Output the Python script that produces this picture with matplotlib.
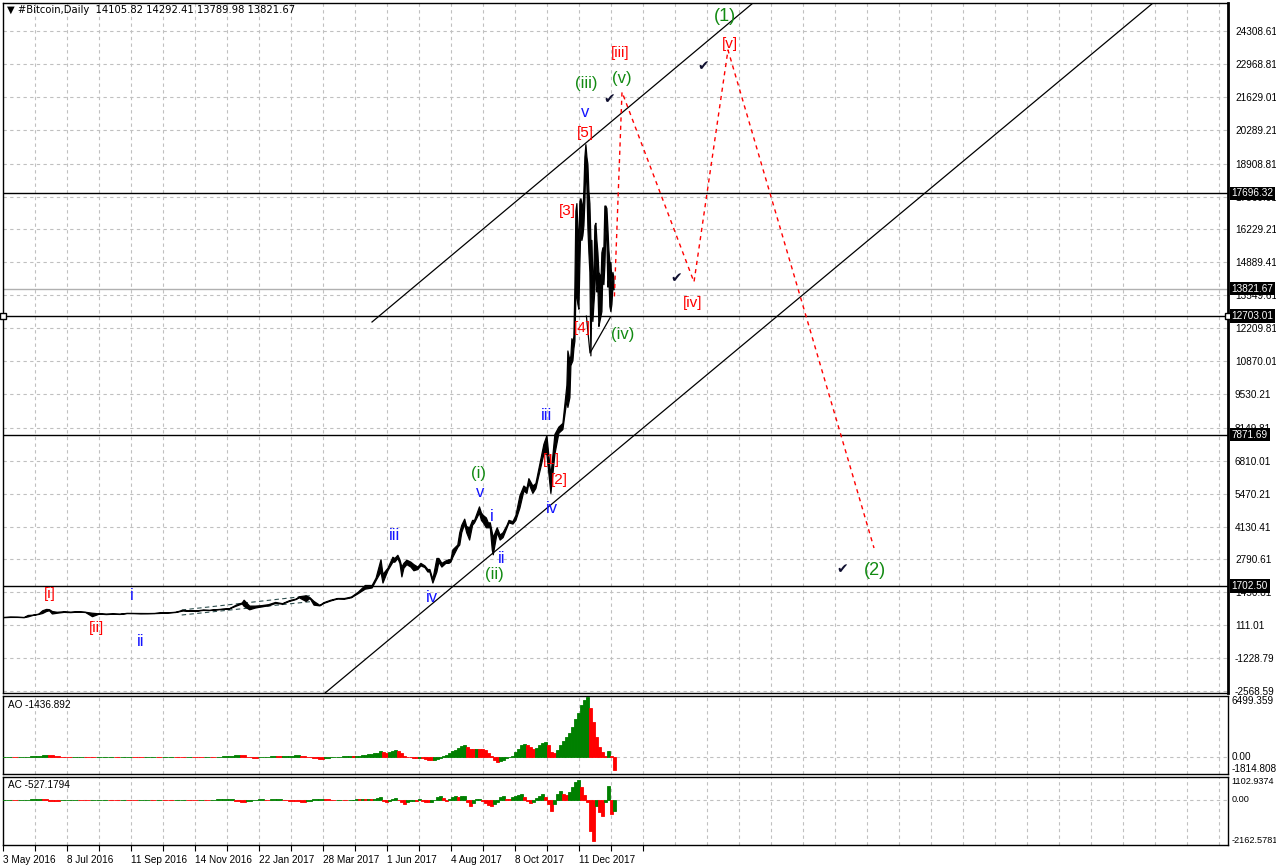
import matplotlib
matplotlib.use('Agg')
import matplotlib.pyplot as plt
import matplotlib.transforms as mtransforms
import numpy as np
import pandas as pd

plt.rcParams['font.family'] = ['Liberation Sans', 'DejaVu Sans']

# daily price bars (sampled), high / low
dates = ['2016-05-03', '2016-05-10', '2016-05-17', '2016-05-24', '2016-05-28', '2016-06-02',
         '2016-06-08', '2016-06-12', '2016-06-16', '2016-06-19', '2016-06-22', '2016-06-27',
         '2016-07-04', '2016-07-11', '2016-07-18', '2016-07-26', '2016-08-02', '2016-08-09',
         '2016-08-16', '2016-08-23', '2016-08-30', '2016-09-06', '2016-09-13', '2016-09-20',
         '2016-09-27', '2016-10-04', '2016-10-11', '2016-10-18', '2016-10-25', '2016-11-01',
         '2016-11-08', '2016-11-15', '2016-11-22', '2016-11-29', '2016-12-06', '2016-12-13',
         '2016-12-20', '2016-12-27', '2017-01-03', '2017-01-05', '2017-01-11', '2017-01-17',
         '2017-01-24', '2017-01-31', '2017-02-07', '2017-02-14', '2017-02-21', '2017-02-28',
         '2017-03-03', '2017-03-10', '2017-03-14', '2017-03-18', '2017-03-24', '2017-03-28',
         '2017-04-04', '2017-04-11', '2017-04-18', '2017-04-25', '2017-05-02', '2017-05-09',
         '2017-05-16', '2017-05-20', '2017-05-25', '2017-05-27', '2017-06-01', '2017-06-06',
         '2017-06-08', '2017-06-11', '2017-06-13', '2017-06-15', '2017-06-17', '2017-06-20',
         '2017-06-24', '2017-06-27', '2017-07-01', '2017-07-04', '2017-07-08', '2017-07-11',
         '2017-07-13', '2017-07-16', '2017-07-20', '2017-07-22', '2017-07-25', '2017-07-29',
         '2017-08-01', '2017-08-03', '2017-08-05', '2017-08-10', '2017-08-12', '2017-08-14',
         '2017-08-17', '2017-08-19', '2017-08-22', '2017-08-25', '2017-08-27', '2017-09-01',
         '2017-09-03', '2017-09-05', '2017-09-08', '2017-09-10', '2017-09-12', '2017-09-14',
         '2017-09-15', '2017-09-19', '2017-09-22', '2017-09-25', '2017-09-29', '2017-10-01',
         '2017-10-05', '2017-10-08', '2017-10-12', '2017-10-16', '2017-10-19', '2017-10-21',
         '2017-10-25', '2017-10-28', '2017-11-01',
         '2017-11-05', '2017-11-08', '2017-11-12', '2017-11-16', '2017-11-20', '2017-11-24',
         '2017-11-28', '2017-11-29', '2017-12-01', '2017-12-02', '2017-12-03', '2017-12-04',
         '2017-12-05', '2017-12-06', '2017-12-07', '2017-12-08', '2017-12-09', '2017-12-10',
         '2017-12-11', '2017-12-12', '2017-12-13', '2017-12-14', '2017-12-15', '2017-12-16',
         '2017-12-17', '2017-12-18', '2017-12-19', '2017-12-20', '2017-12-21', '2017-12-22',
         '2017-12-23', '2017-12-24', '2017-12-25', '2017-12-26', '2017-12-27', '2017-12-28',
         '2017-12-29', '2017-12-30', '2017-12-31', '2018-01-01', '2018-01-02', '2018-01-03',
         '2018-01-04', '2018-01-05', '2018-01-06', '2018-01-07', '2018-01-08', '2018-01-09',
         '2018-01-10', '2018-01-11', '2018-01-12', '2018-01-13', '2018-01-14']
high = [450, 462, 457, 448, 530, 540, 585, 720, 775, 765, 690, 660, 680, 665, 680, 660, 620, 595,
        585, 590, 580, 615, 612, 610, 608, 612, 645, 640, 660, 740, 715, 718, 748, 738, 765, 785,
        800, 940, 1040, 1150, 910, 910, 930, 970, 1060, 1010, 1130, 1200, 1290, 1330, 1250, 1100,
        940, 1050, 1150, 1220, 1220, 1280, 1480, 1750, 1750, 2050, 2800, 2200, 2450, 2900,
        2850, 2980, 2800, 2500, 2650, 2780, 2700, 2600, 2500, 2650, 2550, 2400,
        2400, 2000, 2850, 2850, 2650, 2750, 2800, 2800, 3200, 3400, 3900, 4200,
        4450, 4150, 4100, 4400, 4400, 4950, 4700, 4600, 4500, 4300, 4300, 3900,
        3700, 4100, 3800, 3900, 4200, 4400, 4350, 4600, 5400, 5800, 5700, 6100,
        5800, 5900, 6700,
        7500, 7850, 6200, 7900, 8200, 8350, 9900, 11300,
        10900, 11100, 11800, 11600, 11900, 13900, 17000, 17300, 16300, 15600,
        17400, 17500, 17300, 16900, 17900, 19200, 19700, 19200, 18900, 17800, 17300, 15800,
        15800, 14200, 14500, 16400, 16500, 15800, 15300, 14500, 14400, 14000, 15300, 15500,
        15500, 17200, 17200, 17100, 16300, 15400, 14900, 14900, 14100, 14500, 14292]
low = [440, 450, 450, 440, 470, 530, 570, 610, 690, 720, 590, 620, 655, 645, 665, 650, 480, 585,
       565, 580, 570, 605, 605, 595, 600, 605, 615, 632, 650, 710, 700, 700, 735, 728, 755, 775,
       790, 900, 1000, 900, 760, 830, 880, 920, 1020, 990, 1100, 1180, 1250, 1100, 1220, 950,
       920, 1020, 1120, 1200, 1190, 1250, 1420, 1600, 1650, 1950, 2300, 1850, 2350, 2700,
       2700, 2850, 2650, 2100, 2450, 2600, 2500, 2350, 2400, 2550, 2480, 2300,
       2300, 1850, 2300, 2700, 2500, 2650, 2650, 2700, 2900, 3300, 3400, 3900,
       4250, 3900, 3600, 4200, 4300, 4700, 4400, 4300, 4100, 4100, 4100, 3200,
       3000, 3900, 3600, 3700, 4100, 4300, 4250, 4400, 4900, 5600, 5500, 5900,
       5500, 5700, 6400,
       7100, 7100, 5500, 7100, 7950, 8100, 9300, 9000,
       9400, 10700, 10800, 10900, 11400, 11700, 13600, 13500, 13200, 13000,
       14900, 16400, 15800, 16000, 16400, 17400, 18900, 18000, 16300, 15300, 14500, 11100,
       13500, 12500, 13200, 13800, 15000, 13700, 14000, 12300, 12500, 12700, 12900, 14600,
       14000, 14800, 16200, 15800, 13900, 14300, 13100, 12900, 13200, 13900, 13790]

# time scale labels: date -> bar number
anchor_dates = ['2016-05-03', '2016-07-08', '2016-09-11', '2016-11-14', '2017-01-22',
                '2017-03-28', '2017-06-01', '2017-08-04', '2017-10-08', '2017-12-11', '2018-01-14']
anchor_bars = [0, 64, 128, 192, 256, 320, 384, 448, 512, 576, 610]
time_labels = ['3 May 2016', '8 Jul 2016', '11 Sep 2016', '14 Nov 2016', '22 Jan 2017',
               '28 Mar 2017', '1 Jun 2017', '4 Aug 2017', '8 Oct 2017', '11 Dec 2017']

price_ticks = [24308.61, 22968.81, 21629.01, 20289.21, 18908.81, 17569.01, 16229.21, 14889.41,
               13549.61, 12209.81, 10870.01, 9530.21, 8149.81, 6810.01, 5470.21, 4130.41,
               2790.61, 1450.81, 111.01, -1228.79, -2568.59]
levels = [17696.32, 12703.01, 7871.69, 1702.50]
last_price = 13821.67

# channel lines and projected wave path (bar, price)
upper_bars, upper_prices = [368.6, 749.6], [12459, 25449]
lower_bars, lower_prices = [321.6, 1149.6], [-2650, 25449]
tri_bars, tri_prices = [583.0, 586.6, 607.3], [12700, 11197, 12675]
dash_bars = [[178.3, 306.6], [178.3, 306.6]]
dash_prices = [[732, 1314], [528, 1069]]
proj_bars = [611, 618.6, 690.6, 724.6, 870.6]
proj_prices = [13500, 21825, 14088, 23535, 3256]

# wave labels: text, bar, price, colour
wave_text = ['[i]', '[ii]', 'i', 'ii', 'iii', 'iv', '(i)', 'v', 'i', 'ii', '(ii)', '[1]', '[2]',
             'iv', 'iii', '[3]', '[4]', '(iv)', '[5]', 'v', '(iii)', '(v)', '[iii]', '[iv]',
             '(1)', '[v]', '(2)']
wave_bar = [46.6, 93.6, 128.6, 137.6, 391.6, 428.6, 475.6, 476.6, 488.6, 498.6, 490.6, 547.6,
            555.6, 548.6, 542.6, 563.6, 578.6, 619.6, 581.6, 581.6, 582.6, 618.6, 616.6, 689.6,
            721.6, 726.6, 871.6]
wave_price = [1383, -1, 1302, -571, 3745, 1221, 6270, 5536, 4559, 2849, 2157, 6840, 6026, 4885,
              8632, 16979, 12215, 11970, 20155, 21010, 22191, 22354, 23413, 13233, 24879, 23779,
              2360]
wave_kind = ['r', 'r', 'b', 'b', 'b', 'b', 'g', 'b', 'b', 'b', 'g', 'r', 'r', 'b', 'b', 'r', 'r',
             'g', 'r', 'b', 'g', 'g', 'r', 'r', 'g', 'r', 'g']
check_bar = [605.6, 699.6, 672.6, 838.6]
check_price = [21539, 22883, 14251, 2401]

# Awesome / Accelerator oscillator
ao_early = [0, 10, -10, 5, 20, 60, 150, 220, 180, 60, -20, -40, 20, 30, 0, -30, -20, 10, 20, 10,
            30, 40, 10, -10, 0, 20, 10, 30, 50, 20, 10, 30, 20, 10, 30, 20, 40, 60, 120, 200,
            180, 40, -60, -40, 30, 80, 60, 90, 140, 160, 120, 20, -120, -180, -150, -40, 30, 60, 80]
ao_late = [60, 90, 120, 170, 220, 280, 340, 400, 470, 650, 560, 420, 520, 640, 700, 620, 400,
           150, 40, -30, -90, -120, -60, -130, -220, -300, -370, -330, -200, -80, 60, 250, 420,
           600, 760, 950, 1150, 1290, 1050, 880, 850, 880, 860, 820, 700, 400, 80, -350, -560,
           -450, -280, -160, -50, 150, 500, 900, 1250, 1360, 1250, 1050, 900, 950, 1250, 1450,
           1580, 1300, 500, 400, 700, 1300, 1700, 2100, 2600, 3200, 4000, 4700, 5500, 6100, 6350,
           5200, 3700, 2100, 1100, 500, 100, 600, 150, -1437]
ac_early = [0, 5, -5, 10, 20, 40, 60, 30, -30, -60, -20, 10, 20, -10, -20, 0, 10, 15, 0, -10,
            20, 10, -20, 0, 15, 10, 20, 10, -10, 10, 20, 5, -10, 15, 10, 20, 25, 50, 60, -30,
            -80, -40, 20, 40, 10, 30, 50, 20, -30, -60, -90, -40, 30, 50, 30, 10, 20, 10, 20]
ac_late = [20, 40, 30, 50, 30, 60, 40, 70, 100, 128, -40, -110, -30, 60, 80, 20, -100, -190,
           -120, -60, -30, -40, 40, -60, -100, -120, -80, 20, 150, 200, 90, -50, 60, 150, 170,
           120, 180, 208, -100, -272, -150, 40, 60, -30, -150, -250, -304, -200, -80, 120, 170,
           60, 30, 120, 200, 250, 288, 150, -50, -150, -100, 100, 200, 272, 120, -200, -512,
           -200, 300, 448, 300, 250, 400, 600, 850, 960, 600, 250, -100, -1500, -1950, -300,
           -600, -750, -100, 690, -670, -527]
ao_scale = ['6499.359', '0.00', '-1814.808']
ac_scale = ['1102.9374', '0.00', '-2162.5781']

W, H = 1276, 866
fig = plt.figure(figsize=(W / 100, H / 100), dpi=100)


def rect(top, bottom):
    return [3 / W, 1 - bottom / H, 1225 / W, (bottom - top) / H]


ax = fig.add_axes(rect(3, 693))
ax_ao = fig.add_axes(rect(696, 774))
ax_ac = fig.add_axes(rect(777, 845))

grid_kw = dict(color='#c0c0c0', lw=0.8, ls=(0, (3, 3)), zorder=0)
for a in (ax, ax_ao, ax_ac):
    a.set_xlim(-0.4, 1224.6)
    for gx in np.arange(32, 1225, 32):
        a.axvline(gx, **grid_kw)
    for s in a.spines.values():
        s.set_linewidth(1.0)
ax.spines['right'].set_linewidth(2)

# price bars
t = pd.to_datetime(dates).values.astype('int64')
ta = pd.to_datetime(anchor_dates).values.astype('int64')
x = np.interp(t, ta, anchor_bars)
ax.fill_between(x, low, high, color='black', lw=0.9, zorder=4)

ax.set_ylim(-2648.1, 25448.7)
ax.yaxis.tick_right()
ax.set_yticks(price_ticks)
ax.set_yticklabels([f'{v:.2f}' for v in price_ticks])
ax.tick_params(axis='y', length=0, pad=5, labelsize=7.2)
ax.tick_params(axis='x', length=0, labelbottom=False)
for p in price_ticks:
    ax.axhline(p, **grid_kw)

# levels
trans_r = mtransforms.blended_transform_factory(ax.transAxes, ax.transData)
box = dict(facecolor='black', edgecolor='none', pad=1.2)
for lv in levels:
    ax.axhline(lv, color='black', lw=1, zorder=3)
    ax.text(1.003, lv, f'{lv:.2f}', transform=trans_r, color='white', fontsize=7.2,
            va='center', ha='left', zorder=10, clip_on=False, bbox=box)
ax.plot([0, 1], [levels[1], levels[1]], transform=trans_r, ls='none', marker='s', ms=4,
        mfc='white', mec='black', clip_on=False, zorder=6)
ax.axhline(last_price, color='#b0b0b0', lw=1, zorder=2)
ax.text(1.003, last_price, f'{last_price:.2f}', transform=trans_r, color='white', fontsize=7.2,
        va='center', ha='left', zorder=10, clip_on=False, bbox=box)

# trend channel and helper lines
ax.plot(upper_bars, upper_prices, color='black', lw=0.9, zorder=3)
ax.plot(lower_bars, lower_prices, color='black', lw=0.9, zorder=3)
ax.plot(tri_bars, tri_prices, color='black', lw=0.9, zorder=5)
for bx, py in zip(dash_bars, dash_prices):
    ax.plot(bx, py, color='#2f4f4f', lw=0.8, ls=(0, (4, 3)), zorder=3)
ax.plot(proj_bars, proj_prices, color='red', lw=1, ls=(0, (3, 3)), zorder=5)

colors = {'r': '#ff0000', 'b': '#1414ff', 'g': '#128a12'}
sizes = {'r': 11, 'b': 12, 'g': 12}
for txt, bx, py, k in zip(wave_text, wave_bar, wave_price, wave_kind):
    sz = sizes[k]
    if txt in ('(1)', '(2)'):
        sz = 13
    ax.text(bx, py, txt, color=colors[k], fontsize=sz, ha='center', va='center', zorder=7)
for bx, py in zip(check_bar, check_price):
    ax.text(bx, py, '\u2714', color='#101030', fontsize=10, family='DejaVu Sans',
            ha='center', va='center', zorder=7)

fig.text(7 / W, 1 - 10 / H, '\u25bc #Bitcoin,Daily  14105.82 14292.41 13789.98 13821.67',
         fontsize=7.2, va='center', ha='left', family=['DejaVu Sans'])


def osc(a, early, late, lo, hi, name, scale, fs):
    vals = np.array(early + late, dtype=float)
    xb = np.concatenate([np.arange(len(early)) * 6, 350 + np.arange(len(late)) * 3])
    wb = np.concatenate([np.full(len(early), 6), np.full(len(late), 3)])
    prev = np.concatenate([[vals[0]], vals[:-1]])
    cols = np.where(vals >= prev, '#008000', '#ff0000')
    a.bar(xb, vals, width=wb, color=cols, edgecolor=cols, align='center', lw=0.6, zorder=3)
    a.axhline(0, **grid_kw)
    a.set_ylim(lo, hi)
    a.set_yticks([])
    a.text(0.004, 0.88, name, transform=a.transAxes, fontsize=7.2, va='center', ha='left')
    tr = mtransforms.blended_transform_factory(a.transAxes, a.transData)
    a.text(1.003, hi, scale[0], transform=tr, fontsize=fs, va='top', ha='left', clip_on=False)
    a.text(1.003, 0, scale[1], transform=tr, fontsize=fs, va='center', ha='left', clip_on=False)
    a.text(1.003, lo, scale[2], transform=tr, fontsize=fs, va='bottom', ha='left', clip_on=False)


osc(ax_ao, ao_early, ao_late, -1814.808, 6499.359, 'AO -1436.892', ao_scale, 7.2)
osc(ax_ac, ac_early, ac_late, -2162.5781, 1102.9374, 'AC -527.1794', ac_scale, 6.6)
ax_ao.set_xticks([])

xt = np.arange(0, 641, 32)
ax_ac.set_xticks(xt)
ax_ac.set_xticklabels([time_labels[i // 2] if i % 2 == 0 and i // 2 < len(time_labels) else ''
                       for i in range(len(xt))])
ax_ac.tick_params(axis='x', direction='out', length=4, pad=3, labelsize=7.2)
for lbl in ax_ac.get_xticklabels():
    lbl.set_ha('left')

fig.savefig('out.png', dpi=100)
